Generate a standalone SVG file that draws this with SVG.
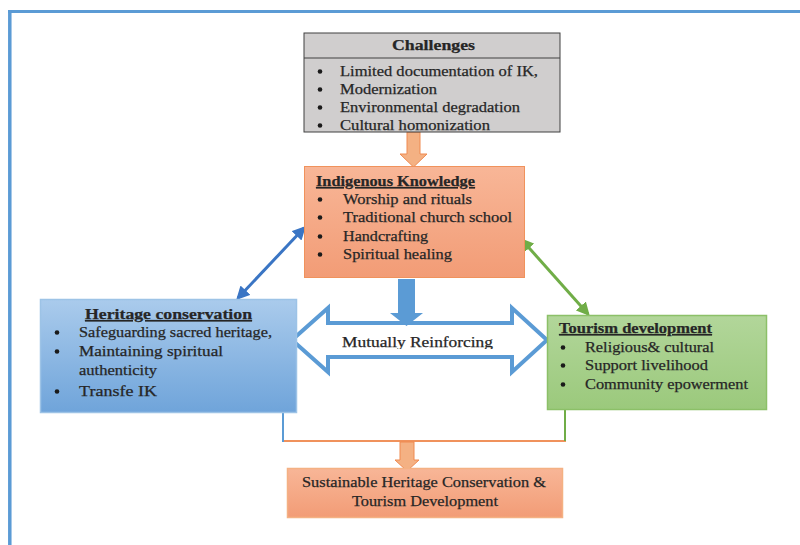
<svg xmlns="http://www.w3.org/2000/svg" width="800" height="545" viewBox="0 0 800 545">
<style>
.t{font-family:"Liberation Serif","Times New Roman",serif;font-size:15px;fill:#262626;stroke:#262626;stroke-width:0.25}
.b{font-weight:bold}
.u{text-decoration:underline}
.c{text-anchor:middle}
.d{fill:#1a1a1a}
</style>
<defs>
<linearGradient id="gOr" x1="0" y1="0" x2="0" y2="1"><stop offset="0" stop-color="#f8b697"/><stop offset="1" stop-color="#f29c76"/></linearGradient>
<linearGradient id="gBl" x1="0" y1="0" x2="0" y2="1"><stop offset="0" stop-color="#aacbec"/><stop offset="1" stop-color="#6fa4da"/></linearGradient>
<linearGradient id="gGr" x1="0" y1="0" x2="0" y2="1"><stop offset="0" stop-color="#b2d69a"/><stop offset="1" stop-color="#9bc97c"/></linearGradient>
<marker id="mB" viewBox="0 0 10 10" refX="8" refY="5" markerWidth="4.5" markerHeight="4.5" orient="auto-start-reverse"><path d="M0,0 L10,5 L0,10 z" fill="#3a75c4"/></marker>
<marker id="mG" viewBox="0 0 10 10" refX="8" refY="5" markerWidth="4.5" markerHeight="4.5" orient="auto-start-reverse"><path d="M0,0 L10,5 L0,10 z" fill="#70ad47"/></marker>
<clipPath id="clipM"><rect x="330" y="325" width="180" height="24"/></clipPath>
</defs>
<rect width="800" height="545" fill="#ffffff"/>
<g id="frame">
<line x1="8" y1="11.5" x2="800" y2="11.5" stroke="#5b9bd5" stroke-width="3"/>
<line x1="9.8" y1="10" x2="9.8" y2="545" stroke="#5b9bd5" stroke-width="3.5"/>
</g>

<g id="connectors">
<line x1="238" y1="298" x2="304" y2="228" stroke="#3a75c4" stroke-width="3" marker-start="url(#mB)" marker-end="url(#mB)"/>
<line x1="522" y1="240" x2="588" y2="314" stroke="#70ad47" stroke-width="3" marker-start="url(#mG)" marker-end="url(#mG)"/>
<polyline points="283,413 283,441 405,441" fill="none" stroke="#5b9bd5" stroke-width="2"/>
<line x1="284" y1="441" x2="566" y2="441" stroke="#f0925c" stroke-width="2"/>
<line x1="565" y1="410" x2="565" y2="441" stroke="#70ad47" stroke-width="2"/>
<polygon points="407,132 420,132 420,154 427,154 413.5,167 400,154 407,154" fill="#f4b183" stroke="#ef8a50" stroke-width="1"/>
<polygon points="292,340 328,308 328,323 512,323 512,308 547,340 512,372 512,357 328,357 328,372" fill="#ffffff" stroke="#5b9bd5" stroke-width="4" stroke-linejoin="miter"/>
<polygon points="398,279 415,279 415,313 423,313 406.5,326 390,313 398,313" fill="#5b9bd5"/>
<polygon points="400,442 414,442 414,460 419,460 407,471 395,460 400,460" fill="#f4b183" stroke="#ef8a50" stroke-width="1"/>
<text class="t c" x="417.5" y="347" font-size="16" textLength="151" lengthAdjust="spacingAndGlyphs" clip-path="url(#clipM)">Mutually Reinforcing</text>
</g>

<g id="challenges">
<rect x="304" y="33" width="256" height="99" fill="#d0cece" stroke="#404040" stroke-width="1"/>
<line x1="304" y1="58" x2="560" y2="58" stroke="#404040" stroke-width="1"/>
<text class="t b c" x="433.5" y="50" font-size="15.5" textLength="83" lengthAdjust="spacingAndGlyphs">Challenges</text>
<circle class="d" cx="320" cy="71.5" r="2.3"/><text class="t" x="340" y="76" textLength="198" lengthAdjust="spacingAndGlyphs">Limited documentation of IK,</text>
<circle class="d" cx="320" cy="89.5" r="2.3"/><text class="t" x="340" y="94" textLength="97" lengthAdjust="spacingAndGlyphs">Modernization</text>
<circle class="d" cx="320" cy="107.5" r="2.3"/><text class="t" x="340" y="112" textLength="180" lengthAdjust="spacingAndGlyphs">Environmental degradation</text>
<circle class="d" cx="320" cy="125.5" r="2.3"/><text class="t" x="340" y="130" textLength="150" lengthAdjust="spacingAndGlyphs">Cultural homonization</text>
</g>

<g id="indigenous-knowledge">
<rect x="304.5" y="166.5" width="220" height="111" fill="url(#gOr)" stroke="#f0925c" stroke-width="1"/>
<text class="t b u" x="316" y="186" textLength="159" lengthAdjust="spacingAndGlyphs">Indigenous Knowledge</text>
<circle class="d" cx="320" cy="199.5" r="2.3"/><text class="t" x="343" y="204" textLength="129" lengthAdjust="spacingAndGlyphs">Worship and rituals</text>
<circle class="d" cx="320" cy="217.5" r="2.3"/><text class="t" x="343" y="222" textLength="169" lengthAdjust="spacingAndGlyphs">Traditional church school</text>
<circle class="d" cx="320" cy="236.5" r="2.3"/><text class="t" x="343" y="241" textLength="85" lengthAdjust="spacingAndGlyphs">Handcrafting</text>
<circle class="d" cx="320" cy="254.5" r="2.3"/><text class="t" x="343" y="259" textLength="109" lengthAdjust="spacingAndGlyphs">Spiritual healing</text>
</g>

<g id="heritage-conservation">
<rect x="40.5" y="299.5" width="256" height="113" fill="url(#gBl)" stroke="#9dc3e6" stroke-width="1.5"/>
<text class="t b u c" x="168.5" y="319" textLength="167" lengthAdjust="spacingAndGlyphs">Heritage conservation</text>
<circle class="d" cx="57" cy="332.5" r="2.3"/><text class="t" x="79" y="337" textLength="193" lengthAdjust="spacingAndGlyphs">Safeguarding sacred heritage,</text>
<circle class="d" cx="57" cy="351.5" r="2.3"/><text class="t" x="79" y="356" textLength="144" lengthAdjust="spacingAndGlyphs">Maintaining spiritual</text>
<text class="t" x="79" y="375" textLength="78" lengthAdjust="spacingAndGlyphs">authenticity</text>
<circle class="d" cx="57" cy="391.5" r="2.3"/><text class="t" x="79" y="396" textLength="78" lengthAdjust="spacingAndGlyphs">Transfe IK</text>
</g>

<g id="tourism-development">
<rect x="547.5" y="315.5" width="219" height="94" fill="url(#gGr)" stroke="#8cc068" stroke-width="1.5"/>
<text class="t b u" x="559" y="333" textLength="153" lengthAdjust="spacingAndGlyphs">Tourism development</text>
<circle class="d" cx="563" cy="347.5" r="2.3"/><text class="t" x="585" y="352" textLength="129" lengthAdjust="spacingAndGlyphs">Religious&amp; cultural</text>
<circle class="d" cx="563" cy="365.5" r="2.3"/><text class="t" x="585" y="370" textLength="123" lengthAdjust="spacingAndGlyphs">Support livelihood</text>
<circle class="d" cx="563" cy="384.5" r="2.3"/><text class="t" x="585" y="389" textLength="163" lengthAdjust="spacingAndGlyphs">Community epowerment</text>
</g>

<g id="sustainable-outcome">
<rect x="287.5" y="468.5" width="275" height="49" fill="url(#gOr)" stroke="#f4b183" stroke-width="1.5"/>
<text class="t c" x="424" y="487" font-size="14" textLength="244" lengthAdjust="spacingAndGlyphs">Sustainable Heritage Conservation &amp;</text>
<text class="t c" x="425" y="506" font-size="14" textLength="146" lengthAdjust="spacingAndGlyphs">Tourism Development</text>
</g>
</svg>
